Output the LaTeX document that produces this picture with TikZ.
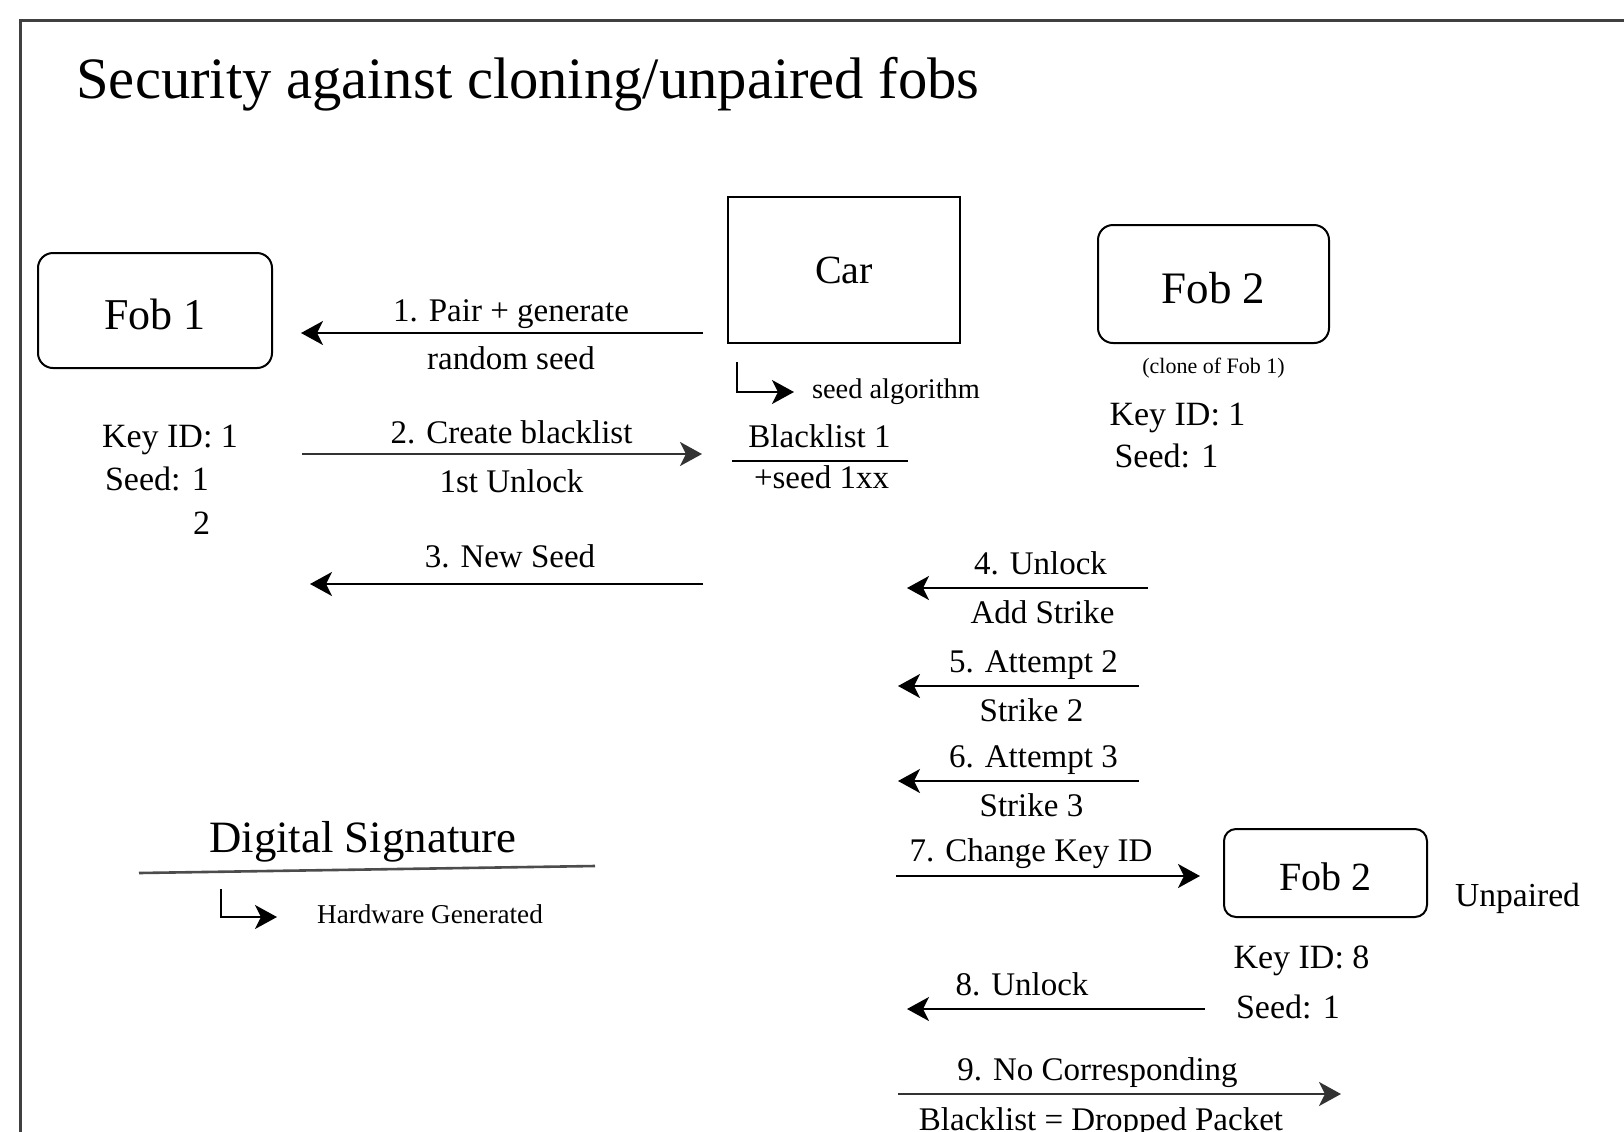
\documentclass[tikz,border=0pt]{standalone}
\usepackage{fontspec}
\setmainfont{Liberation Serif}
\usetikzlibrary{arrows.meta}
\begin{document}
\begin{tikzpicture}[x=0.5pt,y=-0.5pt,
  lbl/.style={font=\fontsize{16.5pt}{19pt}\selectfont, inner sep=0pt, anchor=base},
  small/.style={font=\fontsize{14.2pt}{16pt}\selectfont, inner sep=0pt, anchor=base},
  fobbox/.style={draw, line width=1pt, rounded corners=7.5pt, inner sep=0pt},
  carbox/.style={draw, line width=1pt, inner sep=0pt},
  tipstyle/.style={-{Stealth[length=11pt,width=12pt,inset=3pt]}},
  msg/.style={line width=1.1pt, tipstyle},
  elbow/.style={line width=0.9pt, tipstyle},
  frame/.style={line width=1.5pt, draw=black!75}
]
\useasboundingbox (0,0) rectangle (1624,1131);
\fill[white] (0,0) rectangle (1624,1131);
% frame
\coordinate (fbl) at (20,1160);
\coordinate (ftl) at (20,20);
\coordinate (ftr) at (1660,20);
\draw[frame] (fbl) -- (ftl) -- (ftr);

% title
\node[font=\fontsize{29.3pt}{34pt}\selectfont, inner sep=0pt, anchor=base west] (title) at (76,98) {Security against cloning/unpaired fobs};

% boxes
\node[fobbox, minimum width=117pt, minimum height=57.5pt, font=\fontsize{22pt}{26pt}\selectfont, text height=19pt, text depth=0pt] (fob1) at (155,310.5) {Fob 1};
\node[carbox, minimum width=116pt, minimum height=73pt, font=\fontsize{20pt}{24pt}\selectfont] (car) at (844,270) {Car};
\node[fobbox, minimum width=115.5pt, minimum height=59pt, font=\fontsize{22.5pt}{26pt}\selectfont, text height=19.3pt, text depth=0pt] (fob2) at (1213.5,284) {Fob 2};
\node[fobbox, rounded corners=6pt, minimum width=101.5pt, minimum height=44pt, font=\fontsize{20pt}{24pt}\selectfont, text height=17.6pt, text depth=0pt] (fob2b) at (1325.5,873) {Fob 2};

% info texts
\node[lbl, font=\fontsize{17pt}{20pt}\selectfont] (k1) at (170,447) {Key ID: 1};
\node[lbl, font=\fontsize{17pt}{20pt}\selectfont] (s1) at (157,490) {Seed: 1};
\node[lbl, font=\fontsize{17pt}{20pt}\selectfont] (s1b) at (201.5,534) {2};
\node[inner sep=0pt, anchor=base, font=\fontsize{11pt}{13pt}\selectfont] (clone) at (1213.5,373) {(clone of Fob 1)};
\node[lbl, font=\fontsize{17pt}{20pt}\selectfont] (k2) at (1177.5,425) {Key ID: 1};
\node[lbl, font=\fontsize{17pt}{20pt}\selectfont] (s2) at (1166.5,467) {Seed: 1};
\node[lbl, font=\fontsize{17pt}{20pt}\selectfont] (k3) at (1301.5,968) {Key ID: 8};
\node[lbl, font=\fontsize{17pt}{20pt}\selectfont] (s3) at (1288,1018) {Seed: 1};
\node[lbl, font=\fontsize{16.8pt}{20pt}\selectfont] (unp) at (1517.5,906) {Unpaired};

% blacklist
\node[lbl] (bl1) at (819.5,447) {Blacklist 1};
\node[lbl] (bl2) at (821.5,488) {+seed 1xx};
\coordinate (bll) at (732,461);
\coordinate (blr) at (908,461);
\draw[line width=1pt] (bll) -- (blr);

% seed algorithm elbow
\node[small] (seedalg) at (896,398) {seed algorithm};
\coordinate (e1s) at (737,362);
\coordinate (e1e) at (794,392);
\draw[elbow] (e1s) |- (e1e);

% digital signature
\node[font=\fontsize{22.4pt}{26pt}\selectfont, inner sep=0pt, anchor=base] (ds) at (363,852) {Digital Signature};
\coordinate (dsl) at (139,873);
\coordinate (dsr) at (595,866);
\draw[line width=1.3pt, draw=black!70] (dsl) -- (dsr);
\node[font=\fontsize{13.6pt}{16pt}\selectfont, inner sep=0pt, anchor=base] (hw) at (430,923) {Hardware Generated};
\coordinate (e2s) at (221,889);
\coordinate (e2e) at (277,917);
\draw[elbow] (e2s) |- (e2e);

% messages
\coordinate (a1s) at (703,333); \coordinate (a1e) at (301,333);
\draw[msg] (a1s) -- (a1e);
\node[lbl] (l1a) at (511,321) {1. Pair + generate};
\node[lbl] (l1b) at (511,369) {random seed};

\coordinate (a2s) at (302,454); \coordinate (a2e) at (702,454);
\draw[msg, line width=1.4pt, draw=black!80, fill=black] (a2s) -- (a2e);
\node[lbl] (l2a) at (511.5,443) {2. Create blacklist};
\node[lbl] (l2b) at (511.5,492) {1st Unlock};

\coordinate (a3s) at (703,584); \coordinate (a3e) at (310,584);
\draw[msg] (a3s) -- (a3e);
\node[lbl] (l3) at (510,567) {3. New Seed};

\coordinate (a4s) at (1148,588); \coordinate (a4e) at (907,588);
\draw[msg] (a4s) -- (a4e);
\node[lbl] (l4a) at (1040.5,574) {4. Unlock};
\node[lbl] (l4b) at (1042.5,623) {Add Strike};

\coordinate (a5s) at (1139,686); \coordinate (a5e) at (898,686);
\draw[msg] (a5s) -- (a5e);
\node[lbl] (l5a) at (1033.5,672) {5. Attempt 2};
\node[lbl] (l5b) at (1031.5,721) {Strike 2};

\coordinate (a6s) at (1139,781); \coordinate (a6e) at (898,781);
\draw[msg] (a6s) -- (a6e);
\node[lbl] (l6a) at (1033.5,767) {6. Attempt 3};
\node[lbl] (l6b) at (1031.5,816) {Strike 3};

\coordinate (a7s) at (896,876); \coordinate (a7e) at (1200,876);
\draw[msg] (a7s) -- (a7e);
\node[lbl] (l7) at (1031,861) {7. Change Key ID};

\coordinate (a8s) at (1205,1009); \coordinate (a8e) at (907,1009);
\draw[msg] (a8s) -- (a8e);
\node[lbl] (l8) at (1022,995) {8. Unlock};

\coordinate (a9s) at (898,1094); \coordinate (a9e) at (1341,1094);
\draw[msg, line width=1.4pt, draw=black!80, fill=black] (a9s) -- (a9e);
\node[lbl] (l9a) at (1097.5,1080) {9. No Corresponding};
\node[lbl] (l9b) at (1101,1130) {Blacklist = Dropped Packet};
\end{tikzpicture}
\end{document}
